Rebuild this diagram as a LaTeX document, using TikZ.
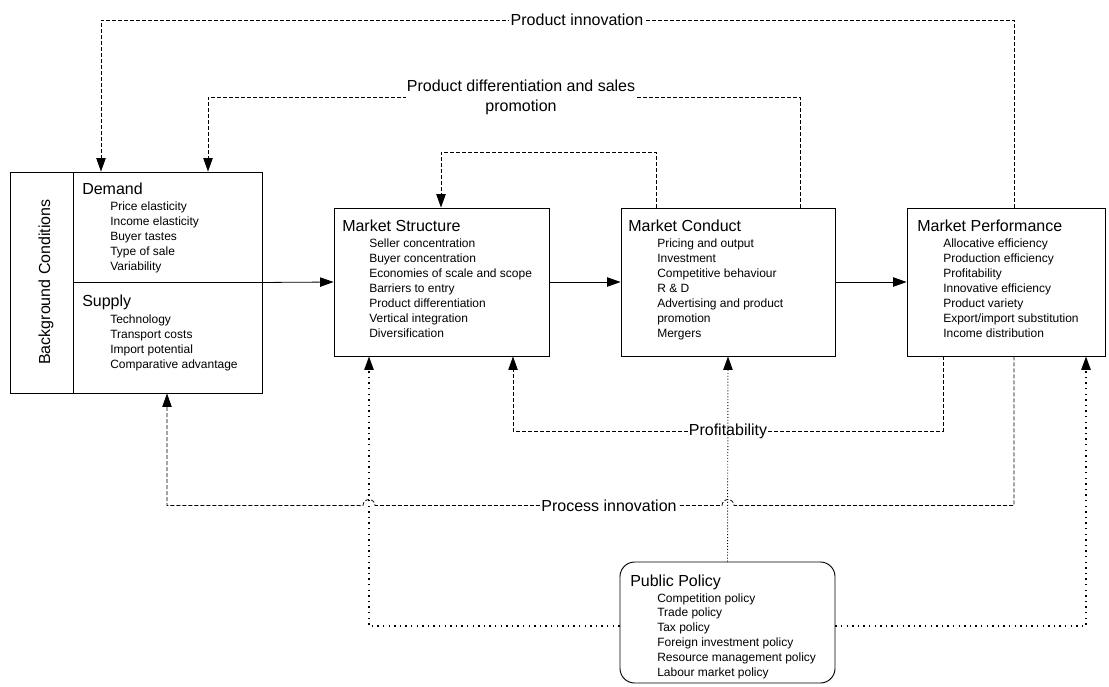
\documentclass[tikz,border=0pt]{standalone}
\usepackage{fontspec}
\setmainfont{Liberation Sans}
\usetikzlibrary{arrows.meta,fit}
\begin{document}
\begin{tikzpicture}[x=0.75pt,y=-0.75pt,
  box/.style={draw, inner sep=0pt, line width=0.7pt},
  ttl/.style={anchor=base west, inner sep=0pt, font=\fontsize{12}{14}\selectfont},
  itm/.style={anchor=base west, inner sep=0pt, font=\fontsize{9}{11}\selectfont},
  lab/.style={fill=white, inner sep=1pt, font=\fontsize{12}{15}\selectfont},
  arr/.style={-{Triangle[length=10pt,width=7pt]}},
  dsh/.style={line width=0.6pt, dash pattern=on 3pt off 1.5pt},
  dot/.style={line width=1pt, dash pattern=on 1pt off 3.2pt},
  fdot/.style={line width=0.7pt, dash pattern=on 0.7pt off 1.5pt}]
\useasboundingbox (0,0) rectangle (1109,686);

% boxes
\node[box, fit={(10,172) (262,393)}] (bg) {};
\node[box, fit={(73,172) (262,282)}] (dem) {};
\node[box, fit={(73,282) (262,393)}] (sup) {};
\node[box, fit={(334,208) (549,356)}] (ms) {};
\node[box, fit={(621,208) (835,356)}] (mc) {};
\node[box, fit={(907,208) (1105,356)}] (mp) {};
\node[box, rounded corners=11pt, fit={(620,562) (835,683)}] (pp) {};

% texts
\node[rotate=90, inner sep=0pt, font=\fontsize{12}{14}\selectfont] (bgt) at (46,282) {Background Conditions};
\node[ttl] (demt) at (82,194) {Demand};
\foreach \t [count=\i] in {Price elasticity, Income elasticity, Buyer tastes, Type of sale, Variability}
  \node[itm] (dem-\i) at (110,{210+15*(\i-1)}) {\t};
\node[ttl] (supt) at (82,306) {Supply};
\foreach \t [count=\i] in {Technology, Transport costs, Import potential, Comparative advantage}
  \node[itm] (sup-\i) at (110,{323+15*(\i-1)}) {\t};
\node[ttl] (mst) at (342,231.5) {Market Structure};
\foreach \t [count=\i] in {Seller concentration, Buyer concentration, Economies of scale and scope, Barriers to entry, Product differentiation, Vertical integration, Diversification}
  \node[itm] (ms-\i) at (369,{247+15*(\i-1)}) {\t};
\node[ttl] (mct) at (628,231.5) {Market Conduct};
\foreach \t [count=\i] in {Pricing and output, Investment, Competitive behaviour, R \& D, Advertising and product, promotion, Mergers}
  \node[itm] (mc-\i) at (657,{247+15*(\i-1)}) {\t};
\node[ttl] (mpt) at (917,231.5) {Market Performance};
\foreach \t [count=\i] in {Allocative efficiency, Production efficiency, Profitability, Innovative efficiency, Product variety, Export/import substitution, Income distribution}
  \node[itm] (mp-\i) at (943,{247+15*(\i-1)}) {\t};
\node[ttl] (ppt) at (630,586) {Public Policy};
\foreach \t [count=\i] in {Competition policy, Trade policy, Tax policy, Foreign investment policy, Resource management policy, Labour market policy}
  \node[itm] (pp-\i) at (657,{602+14.8*(\i-1)}) {\t};

% solid arrows
\draw[arr, line width=0.6pt] (dem.south east) -- (ms.west);
\draw[arr, line width=0.6pt] (ms.east) -- (mc.west);
\draw[arr, line width=0.6pt] (mc.east) -- (mp.west);

% corner coordinates
\coordinate (pi1) at (1014,20);
\coordinate (pi2) at (101,20);
\coordinate (pd1) at (800,97);
\coordinate (pd2) at (208,97);
\coordinate (il1) at (656,152);
\coordinate (il2) at (441,152);
\coordinate (pr1) at (943,431);
\coordinate (pr2) at (513,431);
\coordinate (pc1) at (1014,505.5);
\coordinate (pc2) at (167,505.5);
\coordinate (j1) at (734,505.5);
\coordinate (j2) at (375,505.5);
\coordinate (dl) at (369,626);
\coordinate (dr) at (1086,626);

% dashed feedback loops
\draw[dsh, arr] (mp.north -| pi1) -- (pi1) -- (pi2) -- (dem.north -| pi2);
\draw[dsh, arr] (mc.north -| pd1) -- (pd1) -- (pd2) -- (dem.north -| pd2);
\draw[dsh, arr] (mc.north -| il1) -- (il1) -- (il2) -- (ms.north -| il2);
\draw[dsh, arr] (mp.south -| pr1) -- (pr1) -- (pr2) -- (ms.south -| pr2);
\draw[dsh, arr] (mp.south -| pc1) -- (pc1) -- (j1) arc[start angle=0, end angle=-180, radius=6]
   -- (j2) arc[start angle=0, end angle=-180, radius=6] -- (pc2) -- (sup.south -| pc2);

% labels
\node[lab] (lpi) at (577,20) {Product innovation};
\node[lab, align=center] (lpd) at (521,97) {Product differentiation and sales\\promotion};
\node[lab] (lpr) at (728,431) {Profitability};
\node[lab] (lpc) at (609,505.5) {Process innovation};

% dotted policy links
\draw[fdot, arr] (pp.north) -- (mc.south);
\draw[dot, arr] (pp.west |- dl) -- (dl) -- (ms.south -| dl);
\draw[dot, arr] (pp.east |- dr) -- (dr) -- (mp.south -| dr);
\end{tikzpicture}
\end{document}
